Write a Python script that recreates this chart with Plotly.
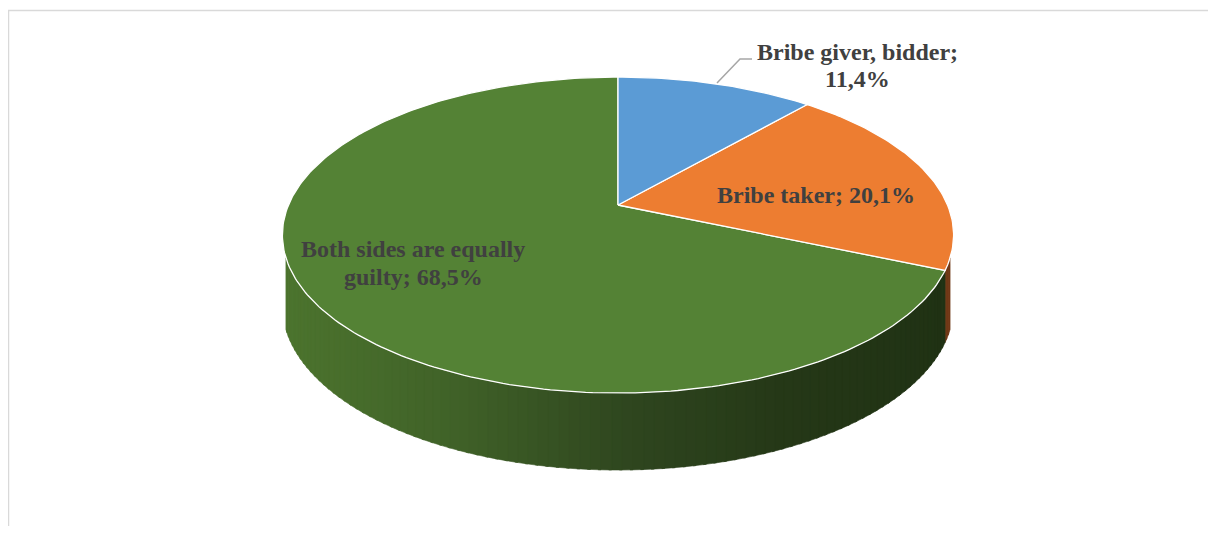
import math
import plotly.graph_objects as go

# ---- data ----
categories = ["Bribe giver, bidder", "Bribe taker", "Both sides are equally guilty"]
values = [11.4, 20.1, 68.5]
value_labels = ["11,4%", "20,1%", "68,5%"]
top_colors = ["#5B9BD5", "#ED7D31", "#548235"]
side_base = ["#3f6a96", "#7a3c14", "#3a5a26"]

# ---- 3D pie geometry (pixel space of the window) ----
W, H = 1216, 534
OFF = 8  # page body margin
CX, CY = 618, 205
SX, SY = 329.5, 152.3
K = 0.19
DEPTH = 69.3
K2 = 0.10


def proj(theta):
    t = math.radians(theta)
    X, D = math.sin(t), math.cos(t)
    w = 1 + K * D
    return CX + SX * X / w, CY - SY * D / w


def depth(theta):
    D = math.cos(math.radians(theta))
    return DEPTH / (1 + K2 * D)


total = sum(values)
bounds = [0.0]
for v in values:
    bounds.append(bounds[-1] + 360.0 * v / total)

fig = go.Figure()

stops = [(283, (76, 116, 46)), (450, (64, 98, 40)), (620, (47, 71, 31)),
         (780, (37, 56, 23)), (945, (32, 50, 20))]


def grad(x):
    if x <= stops[0][0]:
        c = stops[0][1]
    elif x >= stops[-1][0]:
        c = stops[-1][1]
    else:
        for (x0, c0), (x1, c1) in zip(stops, stops[1:]):
            if x0 <= x <= x1:
                f = (x - x0) / (x1 - x0)
                c = tuple(c0[i] + f * (c1[i] - c0[i]) for i in range(3))
                break
    return "rgb(%d,%d,%d)" % tuple(int(round(v)) for v in c)


VIS0, VIS1 = 109.0, 251.0
step = 1.5
th = VIS0
while th < VIS1 - 1e-9:
    t0 = th
    t1 = min(th + step, VIS1)
    mid = (t0 + t1) / 2
    idx = 0
    for i in range(len(values)):
        if bounds[i] <= mid < bounds[i + 1]:
            idx = i
    a0 = max(t0, bounds[idx])
    a1 = min(t1, bounds[idx + 1])
    a1o = min(a1 + 0.4, VIS1, bounds[idx + 1])
    pts = []
    n = 4
    for j in range(n + 1):
        a = a0 + (a1o - a0) * j / n
        pts.append(proj(a))
    bot = []
    for j in range(n, -1, -1):
        a = a0 + (a1o - a0) * j / n
        x, y = proj(a)
        bot.append((x, y + depth(a)))
    poly = pts + bot
    xm = sum(p[0] for p in pts) / len(pts)
    if idx == 2:
        col = grad(xm)
    elif idx == 1:
        col = "rgb(112,56,22)"
    else:
        col = side_base[idx]
    fig.add_trace(go.Scatter(
        x=[p[0] for p in poly] + [poly[0][0]],
        y=[p[1] for p in poly] + [poly[0][1]],
        mode="lines", fill="toself", fillcolor=col,
        line=dict(width=0.6, color=col), hoverinfo="skip", showlegend=False))
    th = t1 if a1 >= t1 else a1
    if th == t0:
        th = t1

for i in [2, 1, 0]:
    a0, a1 = bounds[i], bounds[i + 1]
    n = max(8, int((a1 - a0) / 1.0))
    xs, ys = [CX], [CY]
    for j in range(n + 1):
        x, y = proj(a0 + (a1 - a0) * j / n)
        xs.append(x)
        ys.append(y)
    xs.append(CX)
    ys.append(CY)
    fig.add_trace(go.Scatter(
        x=xs, y=ys, mode="lines", fill="toself", fillcolor=top_colors[i],
        line=dict(width=1.3, color="white"), hoverinfo="skip",
        name=categories[i], showlegend=False))

font = dict(family="Liberation Serif, Times New Roman, serif", size=24, color="#404040")
label_lines = [
    (["Bribe giver, bidder;", value_labels[0]], 857, [52, 79]),
    (["Bribe taker; " + value_labels[1]], 816, [195]),
    (["Both sides are equally", "guilty; " + value_labels[2]], 413, [249, 277]),
]
annotations = []
for lines, x, ys in label_lines:
    for txt, y in zip(lines, ys):
        annotations.append(dict(x=x, y=y, xref="x", yref="y", text="<b>%s</b>" % txt,
                                showarrow=False, font=font, xanchor="center", yanchor="middle"))

shapes = [
    dict(type="rect", xref="x", yref="y", x0=8.5, y0=10.5, x1=1240, y1=560,
         line=dict(color="#d9d9d9", width=1.5), fillcolor="rgba(0,0,0,0)", layer="below"),
    dict(type="path", xref="x", yref="y", path="M 717 83 L 740 59 L 752 59",
         line=dict(color="#a6a6a6", width=1.5)),
]

fig.update_layout(
    width=W - OFF, height=H - 2 * OFF, margin=dict(l=0, r=0, t=0, b=0),
    paper_bgcolor="white", plot_bgcolor="white",
    xaxis=dict(range=[OFF, W], visible=False, fixedrange=True),
    yaxis=dict(range=[H - OFF, OFF], visible=False, fixedrange=True),
    annotations=annotations, shapes=shapes, showlegend=False,
)

fig.write_html("out.html")
